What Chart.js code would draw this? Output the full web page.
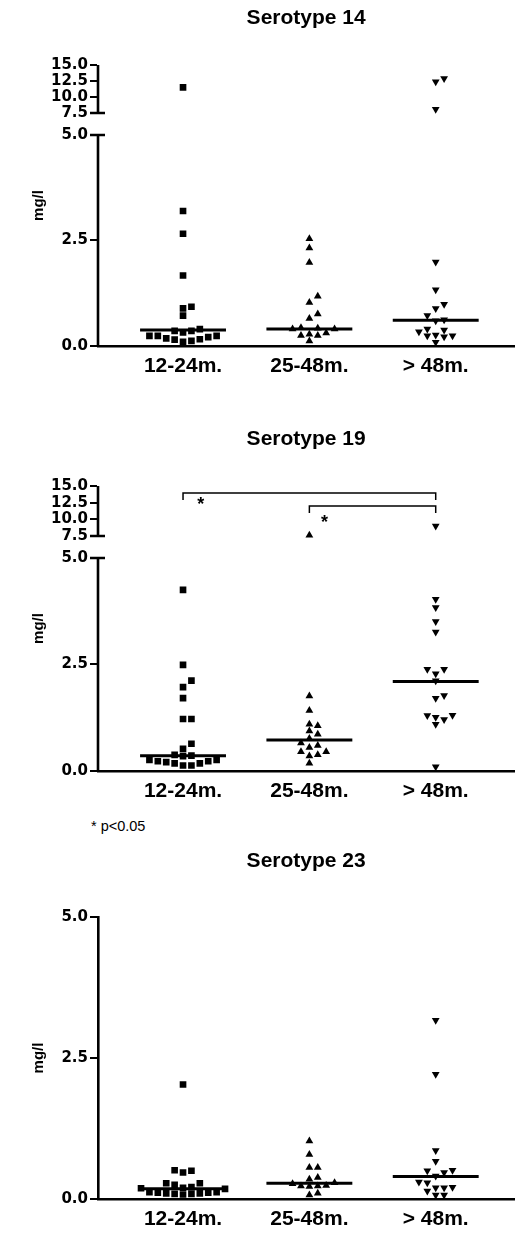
<!DOCTYPE html>
<html>
<head>
<meta charset="utf-8">
<script src="https://cdn.jsdelivr.net/npm/chart.js@4.4.1/dist/chart.umd.min.js"></script>
<style>
html, body { margin: 0; padding: 0; background: #fff; width: 519px; height: 1234px; overflow: hidden; position: relative; }
canvas { position: absolute; left: 0; }
#note { position: absolute; left: 91px; top: 819px; font: 14.5px/1 'Liberation Sans', Arial, sans-serif; color: #000; white-space: nowrap; }
</style>
</head>
<body>
<canvas id="c14" width="519" height="386" style="top:0"></canvas>
<canvas id="c19" width="519" height="389" style="top:422px"></canvas>
<div id="note">* p&lt;0.05</div>
<canvas id="c23" width="519" height="390" style="top:844px"></canvas>
<script>
// categories
var groups = ['12-24m.', '25-48m.', '> 48m.'];

// Serotype 14 (mg/l)
var s14_12_24 = [11.5, 3.2, 2.66, 1.67, 0.93, 0.89, 0.72, 0.40, 0.36, 0.32, 0.36, 0.24, 0.24, 0.18, 0.16, 0.10, 0.12, 0.15, 0.21, 0.24];
var s14_25_48 = [2.54, 2.32, 1.98, 1.18, 1.03, 0.76, 0.65, 0.42, 0.40, 0.43, 0.40, 0.31, 0.25, 0.25, 0.28, 0.12];
var s14_48 = [12.9, 12.4, 8.1, 1.99, 1.33, 0.99, 0.89, 0.72, 0.62, 0.60, 0.40, 0.38, 0.34, 0.26, 0.24, 0.24, 0.22, 0.09];
var med14 = [0.38, 0.40, 0.61];

// Serotype 19
var s19_12_24 = [4.25, 2.49, 2.12, 1.97, 1.71, 1.22, 1.22, 0.64, 0.52, 0.38, 0.36, 0.35, 0.26, 0.23, 0.21, 0.18, 0.13, 0.13, 0.18, 0.23, 0.26];
var s19_25_48 = [7.6, 1.76, 1.42, 1.06, 1.10, 0.86, 0.94, 0.76, 0.60, 0.66, 0.55, 0.45, 0.45, 0.35, 0.38, 0.18];
var s19_48 = [9.0, 4.03, 3.84, 3.51, 3.26, 2.39, 2.39, 2.28, 2.12, 1.77, 1.71, 1.30, 1.21, 1.31, 1.26, 1.10, 0.10];
var med19 = [0.36, 0.73, 2.10];

// Serotype 23
var s23_12_24 = [2.03, 0.51, 0.47, 0.50, 0.28, 0.25, 0.28, 0.20, 0.19, 0.21, 0.18, 0.12, 0.11, 0.10, 0.09, 0.08, 0.09, 0.10, 0.11, 0.12];
var s23_25_48 = [1.03, 0.79, 0.56, 0.56, 0.38, 0.35, 0.29, 0.27, 0.22, 0.23, 0.23, 0.24, 0.07, 0.10];
var s23_48 = [3.17, 2.21, 0.86, 0.67, 0.51, 0.47, 0.50, 0.41, 0.30, 0.29, 0.21, 0.20, 0.20, 0.14, 0.07, 0.07];
var med23 = [0.18, 0.28, 0.40];

// tick labels
var ticksBroken = [0, 2.5, 5, 7.5, 10, 12.5, 15];
var ticksPlain = [0, 2.5, 5];

// significance brackets (serotype 19)
var brFrom = [1, 2];
var brTo = [3, 3];
var brLevel = [13.95, 12.0];
var brEnd = [12.9, 10.95];
var starX = [1.14, 2.12];
var starY = [12.2, 9.5];

var BREAK_LO = 5, BREAK_HI = 7.5;

// linear scale with a gap between 5 and 7.5, upper part compressed
class BrokenScale extends Chart.LinearScale {
  fold(v) {
    var gap = this.options.breakGap, k = this.options.breakScale;
    if (v <= BREAK_LO) return v;
    if (v < BREAK_HI) return BREAK_LO + gap * (v - BREAK_LO) / (BREAK_HI - BREAK_LO);
    return BREAK_LO + gap + (v - BREAK_HI) * k;
  }
  getPixelForValue(v) {
    return this.getPixelForDecimal(this.fold(v) / this.fold(this.max));
  }
  getValueForPixel(p) {
    var t = this.getDecimalForPixel(p) * this.fold(this.max);
    var gap = this.options.breakGap, k = this.options.breakScale;
    if (t <= BREAK_LO) return t;
    if (t < BREAK_LO + gap) return BREAK_LO + (t - BREAK_LO) / gap * (BREAK_HI - BREAK_LO);
    return BREAK_HI + (t - BREAK_LO - gap) / k;
  }
  drawBorder() {
    var ctx = this.ctx, x = this.right;
    var yTop = this.getPixelForValue(this.max), yHi = this.getPixelForValue(BREAK_HI);
    var yLo = this.getPixelForValue(BREAK_LO), yBot = this.getPixelForValue(this.min);
    ctx.save();
    ctx.lineWidth = this.options.border.width;
    ctx.strokeStyle = '#000';
    ctx.beginPath();
    ctx.moveTo(x, yTop); ctx.lineTo(x, yHi);
    ctx.moveTo(x, yLo); ctx.lineTo(x, yBot);
    ctx.moveTo(x - 8, yHi); ctx.lineTo(x + 7, yHi);
    ctx.moveTo(x - 8, yLo); ctx.lineTo(x + 7, yLo);
    ctx.stroke();
    ctx.restore();
  }
}
BrokenScale.id = 'broken';
BrokenScale.defaults = Chart.LinearScale.defaults;
Chart.register(BrokenScale);

Chart.defaults.font.family = "'Liberation Sans', Arial, sans-serif";
Chart.defaults.color = '#000';

var styles = ['rect', 'triangle', 'triangle'];
var rots = [0, 0, 180];
var radii = [4.7, 4.5, 4.5];
var HALF = 0.34;
var STEP_PX = 8.4, HIT_PX = 6.5;

var starPlugin = {
  id: 'stars',
  afterDatasetsDraw: function(chart) {
    if (!chart.options.plugins.stars.show) return;
    var ctx = chart.ctx, x = chart.scales.x, y = chart.scales.y;
    ctx.save();
    ctx.font = "bold 18px 'Liberation Sans'";
    ctx.textAlign = 'center';
    ctx.textBaseline = 'middle';
    ctx.fillStyle = '#000';
    starX.forEach(function(sx, i) {
      ctx.fillText('*', x.getPixelForValue(sx), y.getPixelForValue(starY[i]));
    });
    ctx.restore();
  }
};

// column scatter: spread points that would overlap side by side
function swarm(chart) {
  var xs = chart.scales.x, ys = chart.scales.y;
  var step = STEP_PX / (xs.getPixelForValue(1) - xs.getPixelForValue(0));
  chart.data.datasets.forEach(function(ds) {
    if (!ds.swarm) return;
    var placed = [];
    ds.data.slice().sort(function(a, b) { return a.y - b.y; }).forEach(function(p) {
      var py = ys.getPixelForValue(p.y);
      for (var k = 0; ; k++) {
        var slot = k === 0 ? 0 : (k % 2 ? (k + 1) / 2 : -k / 2);
        var hit = placed.some(function(q) { return q.slot === slot && Math.abs(q.py - py) < HIT_PX; });
        if (!hit) { placed.push({slot: slot, py: py}); p.x = ds.center + slot * step; break; }
      }
    });
  });
  chart.update('none');
}

function makeChart(id, title, series, medians, opt) {
  var datasets = [];
  series.forEach(function(vals, i) {
    datasets.push({
      swarm: true, center: i + 1,
      data: vals.map(function(v) { return {x: i + 1, y: v}; }),
      pointStyle: styles[i], rotation: rots[i], pointRadius: radii[i],
      backgroundColor: '#000', borderColor: '#000', borderWidth: 0
    });
  });
  medians.forEach(function(m, i) {
    datasets.push({
      showLine: true, data: [{x: i + 1 - HALF, y: m}, {x: i + 1 + HALF, y: m}],
      borderColor: '#000', borderWidth: 3, pointRadius: 0
    });
  });
  if (opt.brackets) {
    brFrom.forEach(function(f, i) {
      datasets.push({
        showLine: true,
        data: [{x: f, y: brEnd[i]}, {x: f, y: brLevel[i]}, {x: brTo[i], y: brLevel[i]}, {x: brTo[i], y: brEnd[i]}],
        borderColor: '#000', borderWidth: 1.5, pointRadius: 0, tension: 0
      });
    });
  }
  var yTicks = opt.broken ? ticksBroken : ticksPlain;
  var yScale = {
    type: opt.broken ? 'broken' : 'linear',
    min: 0, max: yTicks[yTicks.length - 1],
    breakGap: opt.gap, breakScale: opt.k,
    afterBuildTicks: function(s) { s.ticks = yTicks.map(function(v) { return {value: v}; }); },
    afterFit: function(s) { s.width = 98; },
    grid: { drawOnChartArea: false, drawTicks: true, tickLength: 8, color: '#000', lineWidth: 2 },
    border: { display: true, color: '#000', width: 2.6 },
    ticks: {
      autoSkip: false, padding: 2, color: '#000',
      font: { family: "'DejaVu Sans'", size: 15, weight: 'bold' },
      callback: function(v) { return Number(v).toFixed(1); }
    },
    title: { display: true, text: 'mg/l', color: '#000', padding: { top: 30, bottom: 0 },
      font: { size: 15, weight: 'bold' } }
  };
  var chart = new Chart(document.getElementById(id), {
    type: 'scatter',
    data: { datasets: datasets },
    plugins: [starPlugin],
    options: {
      responsive: false, animation: false, events: [],
      layout: { padding: 0 },
      plugins: {
        legend: { display: false },
        tooltip: { enabled: false },
        stars: { show: !!opt.brackets },
        title: { display: true, text: title, fullSize: false, color: '#000',
          font: { size: 21, weight: 'bold' }, padding: { top: opt.pt, bottom: opt.pb } }
      },
      scales: {
        x: {
          type: 'linear', min: 0.327, max: 3.622,
          afterBuildTicks: function(s) { s.ticks = [1, 2, 3].map(function(v) { return {value: v}; }); },
          afterFit: function(s) { s.height = opt.xh; },
          grid: { display: false, drawTicks: false },
          border: { display: true, color: '#000', width: 2.6 },
          ticks: { autoSkip: false, maxRotation: 0, padding: 8, color: '#000',
            font: { size: 21, weight: 'bold' },
            callback: function(v, i) { return groups[i]; } }
        },
        y: yScale
      }
    }
  });
  swarm(chart);
  return chart;
}

makeChart('c14', 'Serotype 14', [s14_12_24, s14_25_48, s14_48], med14,
  { broken: true, gap: 0.521, k: 0.1517, pt: 5.4, pb: 34.4, xh: 40 });
makeChart('c19', 'Serotype 19', [s19_12_24, s19_25_48, s19_48], med19,
  { broken: true, gap: 0.516, k: 0.1565, pt: 4.9, pb: 33.9, xh: 40, brackets: true });
makeChart('c23', 'Serotype 23', [s23_12_24, s23_25_48, s23_48], med23,
  { broken: false, pt: 4.9, pb: 42.9, xh: 35 });
</script>
</body>
</html>
